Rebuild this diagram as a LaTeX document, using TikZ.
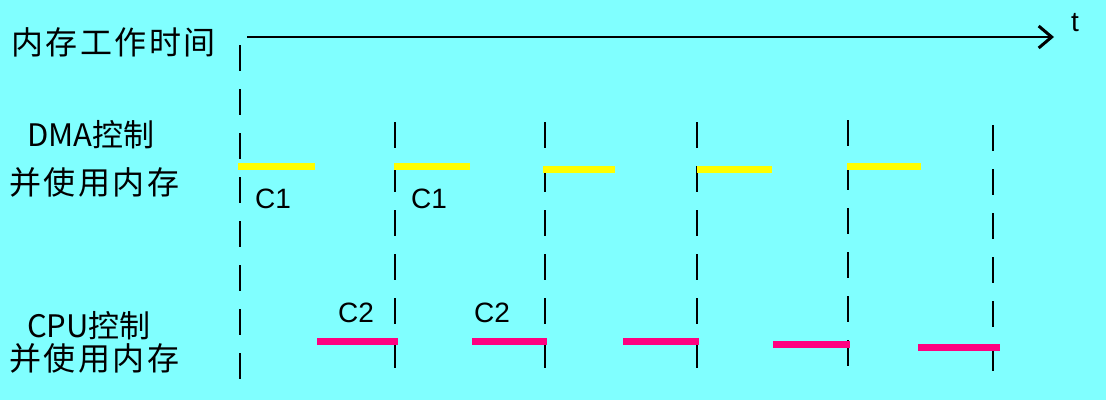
\documentclass[tikz,border=0pt]{standalone}
\usepackage{fontspec}
\setmainfont{Liberation Sans}
\newfontfamily\cjk[LetterSpace=8]{Noto Sans CJK SC}
\newfontfamily\cjkn{Noto Sans CJK SC}
\usetikzlibrary{arrows.meta}
\definecolor{bgc}{HTML}{80FFFF}
\definecolor{dmac}{HTML}{FFFF00}
\definecolor{cpuc}{HTML}{FF0080}
\tikzset{
  lbl/.style={inner sep=0pt, anchor=west, font=\cjk\fontsize{32}{32}\selectfont},
  lbln/.style={inner sep=0pt, anchor=west, font=\cjkn\fontsize{31}{31}\selectfont},
  clbl/.style={inner sep=0pt, font=\fontsize{28}{28}\selectfont},
  tick/.style={draw=black, line width=2pt, dash pattern=on 26pt off 18pt},
  dmabar/.style={draw=dmac, line width=7pt},
  cpubar/.style={draw=cpuc, line width=7pt},
  axis/.style={draw=black, line width=2pt, -{Straight Barb[length=13pt,width=22pt,line width=3pt]}}
}
\begin{document}
\begin{tikzpicture}[x=1pt,y=-1pt]
\fill[bgc] (0,0) rectangle (1106,400);
\useasboundingbox (0,0) rectangle (1106,400);
% labels
\node[lbl] (mem) at (11,42) {内存工作时间};
\node[lbln] (dma1) at (27,135) {DMA控制};
\node[lbl] (dma2) at (9,182) {并使用内存};
\node[lbln] (cpu1) at (27,326) {CPU控制};
\node[lbl] (cpu2) at (9,358) {并使用内存};
\node[clbl] (t) at (1075,23) {t};
% axis
\coordinate (a0) at (247,37);
\coordinate (a1) at (1054,37);
\draw[axis] (a0) -- (a1);
% dashed lines
\coordinate (d0t) at (240,45);  \coordinate (d0b) at (240,396);
\coordinate (d1t) at (395,122); \coordinate (d1b) at (395,376);
\coordinate (d2t) at (545,122); \coordinate (d2b) at (545,376);
\coordinate (d3t) at (697,122); \coordinate (d3b) at (697,376);
\coordinate (d4t) at (848,120); \coordinate (d4b) at (848,376);
\coordinate (d5t) at (993,125); \coordinate (d5b) at (993,376);
\foreach \i in {0,...,5} {\draw[tick] (d\i t) -- (d\i b);}
% DMA bars
\coordinate (y1a) at (238,166); \coordinate (y1b) at (315,166);
\coordinate (y2a) at (394,166); \coordinate (y2b) at (470,166);
\coordinate (y3a) at (543,169); \coordinate (y3b) at (615,169);
\coordinate (y4a) at (697,169); \coordinate (y4b) at (772,169);
\coordinate (y5a) at (847,166); \coordinate (y5b) at (921,166);
\foreach \i in {1,...,5} {\draw[dmabar] (y\i a) -- (y\i b);}
% CPU bars
\coordinate (p1a) at (317,341); \coordinate (p1b) at (398,341);
\coordinate (p2a) at (472,341); \coordinate (p2b) at (547,341);
\coordinate (p3a) at (623,341); \coordinate (p3b) at (699,341);
\coordinate (p4a) at (773,344); \coordinate (p4b) at (850,344);
\coordinate (p5a) at (918,347); \coordinate (p5b) at (1000,347);
\foreach \i in {1,...,5} {\draw[cpubar] (p\i a) -- (p\i b);}
% C labels
\node[clbl] (c1a) at (273,199) {C1};
\node[clbl] (c1b) at (429,199) {C1};
\node[clbl] (c2a) at (356,313) {C2};
\node[clbl] (c2b) at (492,313) {C2};
\end{tikzpicture}
\end{document}
